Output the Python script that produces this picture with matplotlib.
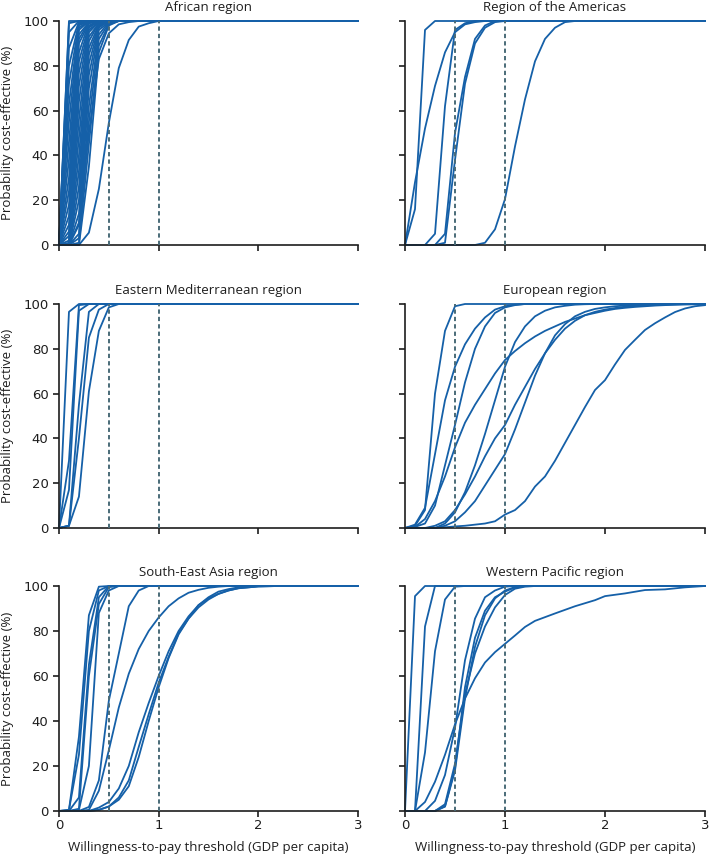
import matplotlib
matplotlib.use('Agg')
import matplotlib.pyplot as plt

plt.rcParams['font.family'] = ['Open Sans', 'DejaVu Sans']

# ---------------- data ----------------
regions = ["African region", "Region of the Americas",
           "Eastern Mediterranean region", "European region",
           "South-East Asia region", "Western Pacific region"]

x_ticks = [0, 1, 2, 3]
y_ticks = [0, 20, 40, 60, 80, 100]
thresholds = [0.5, 1.0]

afr_x = [0, 0.1, 0.2, 0.3, 0.4, 0.5, 0.6, 0.7, 0.8, 0.9, 1.0, 3.0]
afr_y = [
    [0, 100, 100, 100, 100, 100, 100, 100, 100, 100, 100, 100],
    [0, 99, 100, 100, 100, 100, 100, 100, 100, 100, 100, 100],
    [0, 95, 100, 100, 100, 100, 100, 100, 100, 100, 100, 100],
    [0, 88, 99.5, 100, 100, 100, 100, 100, 100, 100, 100, 100],
    [0, 80, 99, 100, 100, 100, 100, 100, 100, 100, 100, 100],
    [0, 72, 98.5, 100, 100, 100, 100, 100, 100, 100, 100, 100],
    [0, 63, 98, 100, 100, 100, 100, 100, 100, 100, 100, 100],
    [0, 55, 97, 100, 100, 100, 100, 100, 100, 100, 100, 100],
    [0, 46, 96, 100, 100, 100, 100, 100, 100, 100, 100, 100],
    [0, 38, 94, 99.5, 100, 100, 100, 100, 100, 100, 100, 100],
    [0, 30, 92, 99.5, 100, 100, 100, 100, 100, 100, 100, 100],
    [0, 24, 90, 99, 100, 100, 100, 100, 100, 100, 100, 100],
    [0, 18, 86, 99, 100, 100, 100, 100, 100, 100, 100, 100],
    [0, 13, 82, 98, 100, 100, 100, 100, 100, 100, 100, 100],
    [0, 9, 77, 97.5, 100, 100, 100, 100, 100, 100, 100, 100],
    [0, 6, 71, 97, 100, 100, 100, 100, 100, 100, 100, 100],
    [0, 4, 64, 96, 99.5, 100, 100, 100, 100, 100, 100, 100],
    [0, 2, 56, 95, 99.5, 100, 100, 100, 100, 100, 100, 100],
    [0, 1, 48, 93, 99, 100, 100, 100, 100, 100, 100, 100],
    [0, 0.5, 40, 91, 99, 100, 100, 100, 100, 100, 100, 100],
    [0, 0, 33, 88, 98.5, 100, 100, 100, 100, 100, 100, 100],
    [0, 0, 26, 85, 98, 100, 100, 100, 100, 100, 100, 100],
    [0, 0, 20, 81, 97.5, 100, 100, 100, 100, 100, 100, 100],
    [0, 0, 14, 76, 97, 100, 100, 100, 100, 100, 100, 100],
    [0, 0, 9, 70, 96, 99.5, 100, 100, 100, 100, 100, 100],
    [0, 0, 5, 62, 94, 99.5, 100, 100, 100, 100, 100, 100],
    [0, 0, 3, 55, 92, 99, 100, 100, 100, 100, 100, 100],
    [0, 0, 1, 45, 89, 98.5, 100, 100, 100, 100, 100, 100],
    [0, 0, 0, 35, 86, 98, 100, 100, 100, 100, 100, 100],
    [0, 0, 10, 50, 83, 94.5, 98.5, 99.5, 100, 100, 100, 100],
    [0, 0, 0, 5.5, 25, 54.5, 79, 91.5, 97.5, 99, 100, 100],
]

amr_x = [0, 0.1, 0.2, 0.3, 0.4, 0.5, 0.6, 0.7, 0.8, 0.9, 1.0, 1.1, 1.2,
         1.3, 1.4, 1.5, 1.6, 1.7, 3.0]
amr_y = [
    [0, 16, 96, 100, 100, 100, 100, 100, 100, 100, 100, 100, 100, 100, 100, 100, 100, 100, 100],
    [0, 28, 52, 71, 86, 95, 98.5, 99.5, 100, 100, 100, 100, 100, 100, 100, 100, 100, 100, 100],
    [0, 0, 0, 5, 62, 96, 99, 100, 100, 100, 100, 100, 100, 100, 100, 100, 100, 100, 100],
    [0, 0, 0, 0, 5, 50, 75, 92, 98, 100, 100, 100, 100, 100, 100, 100, 100, 100, 100],
    [0, 0, 0, 0, 1, 38, 72, 90, 97, 99.5, 100, 100, 100, 100, 100, 100, 100, 100, 100],
    [0, 0, 0, 0, 0, 0, 0, 0, 1, 7, 20.5, 44, 65, 82, 92, 97, 99.5, 100, 100],
]

emr_x = [0, 0.1, 0.2, 0.3, 0.4, 0.5, 0.6, 3.0]
emr_y = [
    [0, 96.5, 100, 100, 100, 100, 100, 100],
    [0, 17, 97, 100, 100, 100, 100, 100],
    [0, 30, 99.5, 100, 100, 100, 100, 100],
    [0, 1, 55, 96.5, 100, 100, 100, 100],
    [0, 1, 40, 85, 97.5, 100, 100, 100],
    [0, 1, 14, 61, 88, 98.5, 100, 100],
]

eur_x = [0, 0.1, 0.2, 0.3, 0.4, 0.5, 0.6, 0.7, 0.8, 0.9, 1.0, 1.1, 1.2,
         1.3, 1.4, 1.5, 1.6, 1.7, 1.8, 1.9, 2.0, 2.1, 2.2, 2.3, 2.4, 2.5,
         2.6, 2.7, 2.8, 2.9, 3.0]
eur_y = [
    [0, 1, 8, 60, 88, 99, 100, 100, 100, 100, 100, 100, 100, 100, 100, 100,
     100, 100, 100, 100, 100, 100, 100, 100, 100, 100, 100, 100, 100, 100, 100],
    [0, 1.5, 9, 33, 57, 72, 82, 89, 94, 97.5, 99, 99.7, 100, 100, 100, 100,
     100, 100, 100, 100, 100, 100, 100, 100, 100, 100, 100, 100, 100, 100, 100],
    [0, 0.5, 2, 10, 28, 46, 65, 80, 90, 96, 98.5, 99.5, 100, 100, 100, 100,
     100, 100, 100, 100, 100, 100, 100, 100, 100, 100, 100, 100, 100, 100, 100],
    [0, 0.5, 4, 12, 23, 36, 47, 55, 62, 69, 75, 79, 82.5, 85.5, 88, 90, 92,
     93.5, 95, 96, 97, 97.8, 98.3, 98.7, 99, 99.3, 99.5, 99.7, 99.8, 99.9, 100],
    [0, 0, 0, 0, 2, 7, 16, 28, 42, 57, 72, 83, 90, 94.5, 97, 98.5, 99.2, 99.7,
     99.9, 100, 100, 100, 100, 100, 100, 100, 100, 100, 100, 100, 100],
    [0, 0, 0, 1, 3, 8, 15, 23, 32, 40, 46, 55, 63, 71, 78, 84, 89, 92.5, 95,
     96.5, 97.5, 98.2, 98.8, 99.1, 99.4, 99.5, 99.7, 99.8, 99.9, 99.9, 100],
    [0, 0, 0, 0, 1, 3, 7, 12, 19, 26, 33, 44, 56, 68, 78, 86, 91, 94.5, 96.5,
     97.8, 98.5, 99, 99.3, 99.5, 99.7, 99.8, 99.9, 99.9, 100, 100, 100],
    [0, 0, 0, 0, 0.3, 0.7, 1, 1.5, 2, 3, 6, 8, 12, 18.5, 23, 30, 38, 46, 54,
     61.6, 66, 73, 79.5, 84, 88.4, 91.4, 94, 96.4, 98, 99, 99.5],
]

sea_x = [0, 0.1, 0.2, 0.3, 0.4, 0.5, 0.6, 0.7, 0.8, 0.9, 1.0, 1.1, 1.2,
         1.3, 1.4, 1.5, 1.6, 1.7, 1.8, 2.0, 2.2, 3.0]
sea_y = [
    [0, 0.5, 33, 87, 99.7, 100, 100, 100, 100, 100, 100, 100, 100, 100, 100, 100, 100, 100, 100, 100, 100, 100],
    [0, 0.5, 25, 80, 98, 100, 100, 100, 100, 100, 100, 100, 100, 100, 100, 100, 100, 100, 100, 100, 100, 100],
    [0, 0, 6, 65, 95, 100, 100, 100, 100, 100, 100, 100, 100, 100, 100, 100, 100, 100, 100, 100, 100, 100],
    [0, 0, 1, 60, 92, 99.5, 100, 100, 100, 100, 100, 100, 100, 100, 100, 100, 100, 100, 100, 100, 100, 100],
    [0, 0, 0.5, 20, 88, 98, 100, 100, 100, 100, 100, 100, 100, 100, 100, 100, 100, 100, 100, 100, 100, 100],
    [0, 0, 0, 1.8, 13.6, 49, 70, 91, 98, 100, 100, 100, 100, 100, 100, 100, 100, 100, 100, 100, 100, 100],
    [0, 0, 0, 0.5, 9, 27, 46, 61, 72, 80, 86, 91, 94.5, 97, 98.3, 99.2, 99.7, 100, 100, 100, 100, 100],
    [0, 0, 0, 0, 0.5, 2, 6, 13.6, 28.5, 43, 57, 68.5, 79, 85.6, 91.5, 95, 97.5, 98.6, 99.4, 100, 100, 100],
    [0, 0, 0, 0, 1.5, 4, 10, 20, 35, 48, 60, 71, 80, 86.5, 91.5, 94.5, 96.5, 98, 99, 99.8, 100, 100],
    [0, 0, 0, 0, 0.5, 2, 5, 11, 24, 40, 55, 68, 78.5, 85.5, 90.5, 94, 96.5, 98, 99, 99.8, 100, 100],
]

wpr_x = [0, 0.1, 0.2, 0.3, 0.4, 0.5, 0.6, 0.7, 0.8, 0.9, 1.0, 1.1, 1.2,
         1.3, 1.5, 1.7, 1.9, 2.0, 2.2, 2.4, 2.6, 2.8, 3.0]
wpr_y = [
    [0, 95.5, 100, 100, 100, 100, 100, 100, 100, 100, 100, 100, 100, 100, 100, 100, 100, 100, 100, 100, 100, 100, 100],
    [0, 0, 82, 100, 100, 100, 100, 100, 100, 100, 100, 100, 100, 100, 100, 100, 100, 100, 100, 100, 100, 100, 100],
    [0, 0, 26, 71, 94, 99.7, 100, 100, 100, 100, 100, 100, 100, 100, 100, 100, 100, 100, 100, 100, 100, 100, 100],
    [0, 0, 0, 4.5, 16, 37, 67, 85.5, 95, 98, 99.7, 100, 100, 100, 100, 100, 100, 100, 100, 100, 100, 100, 100],
    [0, 0, 0, 0, 2, 19, 55, 77, 89, 95, 97.5, 99.4, 100, 100, 100, 100, 100, 100, 100, 100, 100, 100, 100],
    [0, 0, 0, 0, 2, 18, 50, 73, 87, 94.5, 98, 99.5, 100, 100, 100, 100, 100, 100, 100, 100, 100, 100, 100],
    [0, 0, 0, 0, 3, 21, 52, 70, 82, 90.5, 96, 98.8, 99.7, 100, 100, 100, 100, 100, 100, 100, 100, 100, 100],
    [0, 0, 4, 13, 25, 38.5, 50, 59, 66, 70.6, 74.3, 78, 81.8, 84.5, 87.8, 91, 93.7, 95.5, 96.7, 98.2, 98.5, 99.4, 100],
]

region_data = [(afr_x, afr_y), (amr_x, amr_y), (emr_x, emr_y),
               (eur_x, eur_y), (sea_x, sea_y), (wpr_x, wpr_y)]

# ---------------- style ----------------
LINE = '#1560a8'
DASH = '#4a6b78'
AXC = '#1e1e1e'

W, H = 715, 860
col_left = [59, 405]
col_w = [299, 300]
row_top = [21, 304, 586]
row_h = [224, 224, 225]

fig = plt.figure(figsize=(W / 100, H / 100), dpi=100)

for i, (name, (xs, ys)) in enumerate(zip(regions, region_data)):
    r, c = divmod(i, 2)
    left = col_left[c] / W
    bottom = 1 - (row_top[r] + row_h[r]) / H
    ax = fig.add_axes([left, bottom, col_w[c] / W, row_h[r] / H])
    for y in ys:
        ax.plot(xs, y, color=LINE, lw=1.3, clip_on=False, zorder=2,
                solid_joinstyle='round')
    for t in thresholds:
        ax.plot([t, t], [0, 100], color=DASH, lw=1.4, ls=(0, (2.2, 1.6)),
                zorder=3, clip_on=False)
    ax.set_xlim(0, 3)
    ax.set_ylim(0, 100)
    ax.set_xticks(x_ticks)
    ax.set_yticks(y_ticks)
    for s in ['top', 'right']:
        ax.spines[s].set_visible(False)
    for s in ['left', 'bottom']:
        ax.spines[s].set_color(AXC)
        ax.spines[s].set_linewidth(1.2)
    ax.tick_params(direction='out', length=4.5, width=1.2, color=AXC,
                   labelsize=9.5, labelcolor=AXC)
    ax.tick_params(axis='y', pad=3)
    ax.tick_params(axis='x', pad=1.5)
    for lab in ax.get_xticklabels() + ax.get_yticklabels():
        lab.set_fontfamily('DejaVu Sans')
    if c == 1:
        ax.tick_params(labelleft=False)
    else:
        ax.set_ylabel('Probability cost-effective (%)', fontsize=9.5,
                      color=AXC, labelpad=7)
    if r < 2:
        ax.tick_params(labelbottom=False)
    else:
        ax.set_xlabel('Willingness-to-pay threshold (GDP per capita)',
                      fontsize=9.5, color=AXC, labelpad=6)
    ax.set_title(name, fontsize=9.5, color=AXC, pad=7)

fig.savefig('out.png', dpi=100)
